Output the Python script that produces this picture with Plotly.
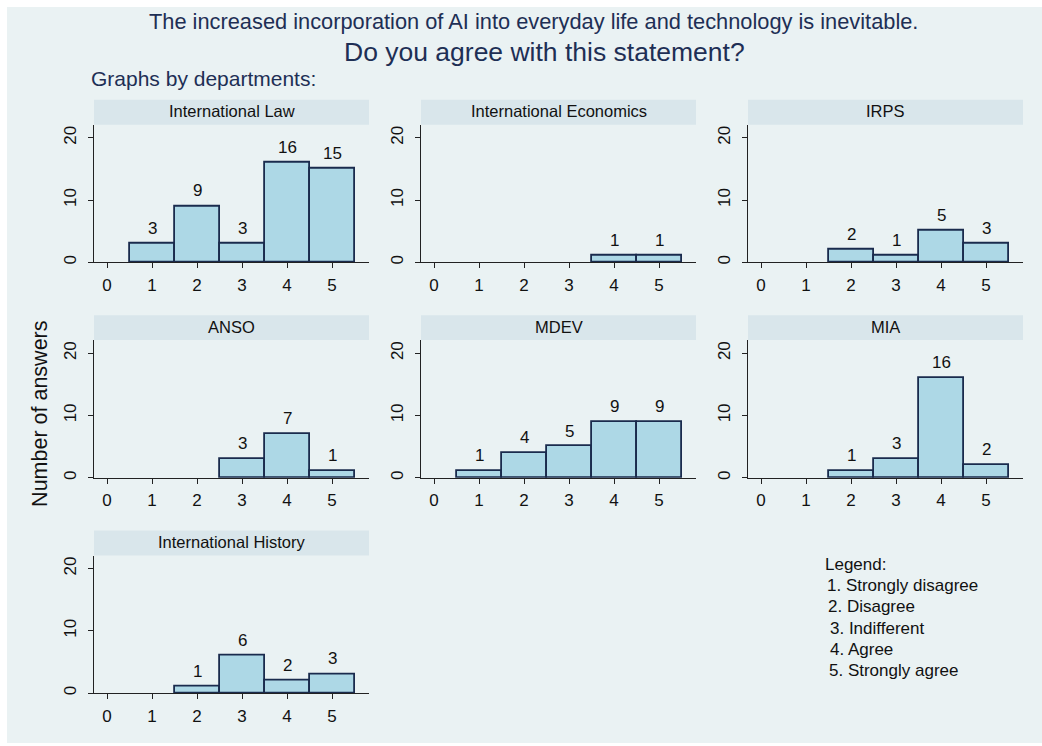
import plotly.graph_objects as go

# answer scale and counts per department
categories = [1, 2, 3, 4, 5]
departments = ["International Law", "International Economics", "IRPS",
               "ANSO", "MDEV", "MIA", "International History"]
intl_law = [3, 9, 3, 16, 15]
intl_econ = [0, 0, 0, 1, 1]
irps = [0, 2, 1, 5, 3]
anso = [0, 0, 3, 7, 1]
mdev = [1, 4, 5, 9, 9]
mia = [0, 1, 3, 16, 2]
intl_history = [0, 1, 6, 2, 3]
counts = [intl_law, intl_econ, irps, anso, mdev, mia, intl_history]

x_ticks = [0, 1, 2, 3, 4, 5]
y_ticks = [0, 10, 20]
legend_lines = ["Legend:", "1. Strongly disagree", "2. Disagree",
                "3. Indifferent", "4. Agree", "5. Strongly agree"]

W, H = 1042, 746
FONT = "Liberation Sans, Arial, sans-serif"
NAVY = "#1e2f55"
BG = "#eaf2f3"
STRIP = "#d9e6eb"

def px(x):
    return x / W

def py(y):
    return 1 - y / H

col_left = [94, 421, 748]
row_top = [100, 316, 532]
panel_w, strip_h, plot_h = 275, 25, 138

fig = go.Figure()
shapes = []
annotations = []

# outer background
shapes.append(dict(type="rect", xref="paper", yref="paper", x0=px(7), x1=1,
                   y0=py(745), y1=py(7), fillcolor=BG, line_width=0, layer="below"))

def note(x, y, text, size, color="#111", **kw):
    d = dict(x=px(x), y=py(y), xref="paper", yref="paper", text=text, showarrow=False,
             xanchor="center", yanchor="middle", font=dict(size=size, color=color, family=FONT))
    d.update(kw)
    annotations.append(d)

for i, (name, vals) in enumerate(zip(departments, counts)):
    r, c = divmod(i, 3)
    left = col_left[c]
    top = row_top[r]
    ax = "" if i == 0 else str(i + 1)
    xs = [k for k, v in zip(categories, vals) if v > 0]
    ys = [v for v in vals if v > 0]
    fig.add_trace(go.Bar(x=xs, y=ys, width=1, xaxis="x" + ax, yaxis="y" + ax,
                         marker=dict(color="#add8e6", line=dict(color="#1a2b4d", width=1.8)),
                         showlegend=False, hoverinfo="x+y"))
    for xv, yv in zip(xs, ys):
        annotations.append(dict(x=xv, y=yv, xref="x" + ax, yref="y" + ax, text=str(yv),
                                showarrow=False, xanchor="center", yanchor="bottom", yshift=4,
                                font=dict(size=17, color="#111", family=FONT)))
    fig.update_layout(**{
        "xaxis" + ax: dict(domain=[px(left), px(left + panel_w)], anchor="y" + ax,
                           range=[-0.29, 5.82], tickvals=x_ticks, ticks="outside",
                           ticklen=5, tickcolor="#222", showline=True, linecolor="#222",
                           linewidth=1.3, showgrid=False, zeroline=False,
                           ticklabelstandoff=2,
                           tickfont=dict(size=17, color="#111", family=FONT)),
        "yaxis" + ax: dict(domain=[py(top + strip_h + plot_h), py(top + strip_h)],
                           anchor="x" + ax, range=[0, 22.1], tickvals=y_ticks,
                           ticks="outside", ticklen=5, tickcolor="#222", tickangle=-90,
                           showline=True, linecolor="#222", linewidth=1.3,
                           showgrid=True, gridcolor=BG, gridwidth=1.5, zeroline=False,
                           ticklabelstandoff=5,
                           tickfont=dict(size=17, color="#111", family=FONT)),
    })
    # strip header
    shapes.append(dict(type="rect", xref="paper", yref="paper", x0=px(left),
                       x1=px(left + panel_w), y0=py(top + strip_h), y1=py(top),
                       fillcolor=STRIP, line_width=0))
    note(left + panel_w / 2, top + strip_h / 2 - 1, name, 16.5)

# titles
note(533, 22, "The increased incorporation of AI into everyday life and technology is inevitable.",
     21.8, NAVY)
note(544, 52, "Do you agree with this statement?", 26.5, NAVY)
note(89, 79, "Graphs by departments:", 21, NAVY, xanchor="left")
note(40, 415, "Number of answers", 21.5, textangle=-90)

# legend text block
legend_x = [823, 825, 826, 828, 828, 827]
for k, line in enumerate(legend_lines):
    note(legend_x[k], 566 + 21.3 * k, line, 17, xanchor="left")

fig.update_layout(width=W, height=H, margin=dict(l=0, r=0, t=0, b=0),
                  paper_bgcolor="white", plot_bgcolor="white", bargap=0,
                  shapes=shapes, annotations=annotations)

fig.write_html("out.html", config={"displayModeBar": False},
               post_script="document.body.style.margin='0';document.body.style.overflow='hidden';")
